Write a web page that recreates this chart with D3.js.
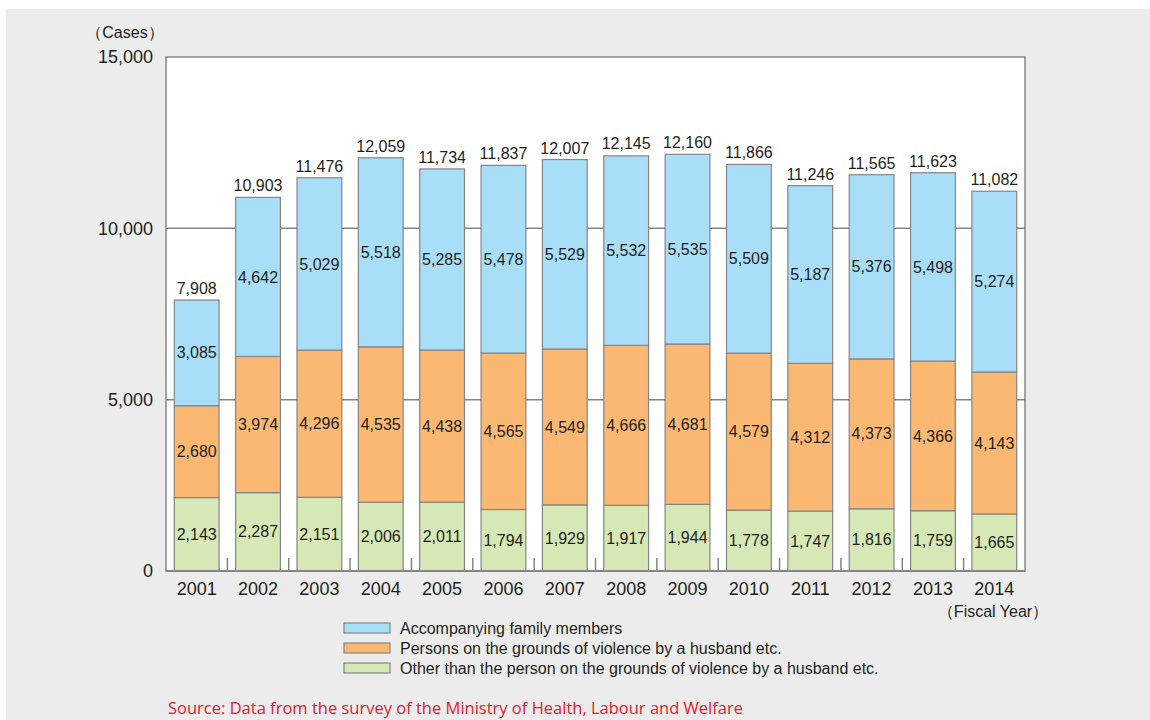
<!DOCTYPE html>
<html><head><meta charset="utf-8">
<script src="https://cdn.jsdelivr.net/npm/d3@7"></script>
<style>body{margin:0;background:#fff;} svg{display:block;}</style>
</head><body>
<svg id="chart" width="1150" height="720"></svg>
<script>
const years = ["2001","2002","2003","2004","2005","2006","2007","2008","2009","2010","2011","2012","2013","2014"];
const otherVals = [2143,2287,2151,2006,2011,1794,1929,1917,1944,1778,1747,1816,1759,1665];
const violenceVals = [2680,3974,4296,4535,4438,4565,4549,4666,4681,4579,4312,4373,4366,4143];
const familyVals = [3085,4642,5029,5518,5285,5478,5529,5532,5535,5509,5187,5376,5498,5274];
const totals = [7908,10903,11476,12059,11734,11837,12007,12145,12160,11866,11246,11565,11623,11082];
const yTicks = [0,5000,10000,15000];
const seriesNames = ["Accompanying family members","Persons on the grounds of violence by a husband etc.","Other than the person on the grounds of violence by a husband etc."];
const colors = {other:"#d5e8b6", violence:"#fbb872", family:"#a9def8"};

(function(){
const svg = d3.select("#chart");
svg.append("rect").attr("x",6).attr("y",9).attr("width",1144).attr("height",711).attr("fill","#ebeceb");

const pL=166, pR=1025, pT=57, pB=571;
const x = d3.scaleBand().domain(years).range([pL,pR]).paddingInner(0.27).paddingOuter(0.135);
const y = d3.scaleLinear().domain([0,15000]).range([pB,pT]);
const fmt = d3.format(",");
const font = "'Liberation Sans', Arial, sans-serif";
const ink = "#231f20";

svg.append("rect").attr("x",pL).attr("y",pT).attr("width",pR-pL).attr("height",pB-pT)
  .attr("fill","#fff").attr("stroke","#858585").attr("stroke-width",1.5);

svg.selectAll(".grid").data(yTicks.filter(t=>t>0&&t<15000)).join("line")
  .attr("x1",pL).attr("x2",pR).attr("y1",d=>y(d)).attr("y2",d=>y(d))
  .attr("stroke","#858585").attr("stroke-width",1.5);

const rows = years.map((yr,i)=>({year:yr, other:otherVals[i], violence:violenceVals[i], family:familyVals[i], total:totals[i]}));
const stack = d3.stack().keys(["other","violence","family"])(rows);
const g = svg.append("g");
stack.forEach(layer=>{
  g.selectAll(null).data(layer).join("rect")
    .attr("x",d=>x(d.data.year)).attr("width",x.bandwidth())
    .attr("y",d=>y(d[1])).attr("height",d=>y(d[0])-y(d[1]))
    .attr("fill",colors[layer.key]).attr("stroke","#858585").attr("stroke-width",1.2);
});
stack.forEach(layer=>{
  g.selectAll(null).data(layer).join("text")
    .attr("x",d=>x(d.data.year)+x.bandwidth()/2).attr("y",d=>y((d[0]+d[1])/2))
    .attr("dy","0.35em").attr("text-anchor","middle")
    .attr("font-family",font).attr("font-size",16).attr("fill",ink)
    .text(d=>fmt(d.data[layer.key]));
});
g.selectAll(null).data(rows).join("text")
  .attr("x",d=>x(d.year)+x.bandwidth()/2).attr("y",d=>y(d.total)-6)
  .attr("text-anchor","middle").attr("font-family",font).attr("font-size",16).attr("fill",ink)
  .text(d=>fmt(d.total));

svg.append("line").attr("x1",pL).attr("x2",pR).attr("y1",pB).attr("y2",pB)
  .attr("stroke","#858585").attr("stroke-width",2);
const half = x.step()*x.paddingInner()/2;
svg.selectAll(".xt").data(years.slice(1)).join("line")
  .attr("x1",d=>x(d)-half).attr("x2",d=>x(d)-half)
  .attr("y1",pB).attr("y2",pB-13).attr("stroke","#858585").attr("stroke-width",1.5);
svg.selectAll(".xl").data(years).join("text")
  .attr("x",d=>x(d)+x.bandwidth()/2).attr("y",pB+24)
  .attr("text-anchor","middle").attr("font-family",font).attr("font-size",18).attr("fill",ink)
  .text(d=>d);
svg.append("text").attr("x",993).attr("y",617).attr("text-anchor","middle")
  .attr("font-family",font).attr("font-size",16).attr("fill",ink).text("（Fiscal Year）");

svg.selectAll(".yl").data(yTicks).join("text")
  .attr("x",153).attr("y",d=>y(d)).attr("dy","0.35em").attr("text-anchor","end")
  .attr("font-family",font).attr("font-size",18).attr("fill",ink)
  .text(d=>fmt(d));
svg.append("text").attr("x",125).attr("y",38).attr("text-anchor","middle")
  .attr("font-family",font).attr("font-size",16).attr("fill",ink).text("（Cases）");

const legKeys = ["family","violence","other"];
const leg = svg.append("g");
legKeys.forEach((k,i)=>{
  const ly = 628 + i*20;
  leg.append("rect").attr("x",344).attr("y",ly-5).attr("width",46).attr("height",10)
    .attr("fill",colors[k]).attr("stroke","#858585").attr("stroke-width",1.2);
  leg.append("text").attr("x",400).attr("y",ly).attr("dy","0.35em")
    .attr("font-family",font).attr("font-size",16).attr("fill",ink).text(seriesNames[i]);
});

svg.append("text").attr("x",168).attr("y",714)
  .attr("font-family","'Open Sans', 'Noto Sans', sans-serif").attr("font-size",16.5).attr("fill","#e0202e")
  .text("Source: Data from the survey of the Ministry of Health, Labour and Welfare");
})();
</script>
</body></html>
